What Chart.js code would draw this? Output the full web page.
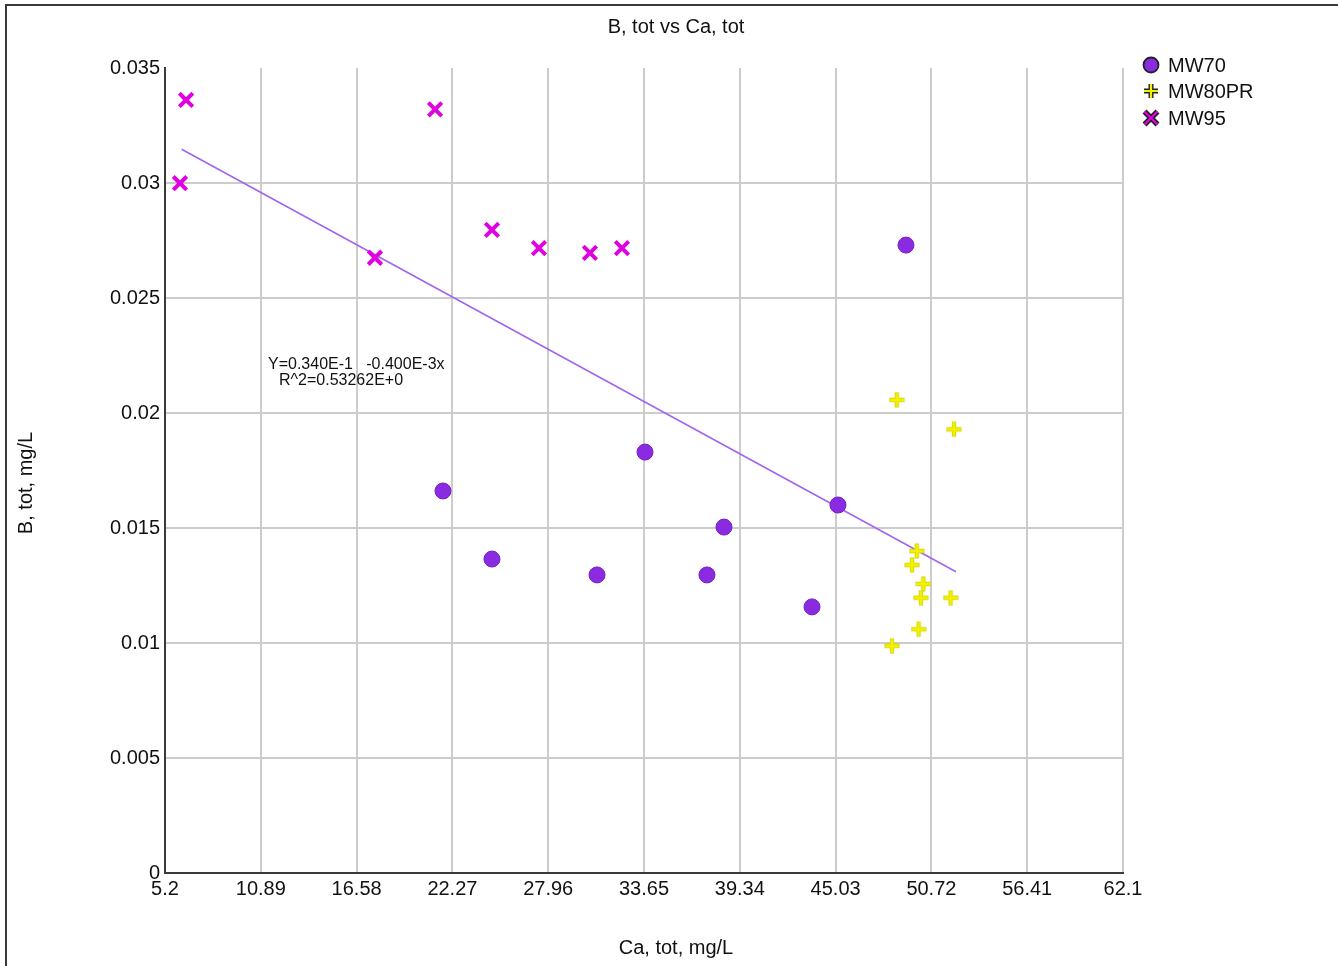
<!DOCTYPE html>
<html>
<head>
<meta charset="utf-8">
<title>B, tot vs Ca, tot</title>
<script src="https://cdn.jsdelivr.net/npm/chart.js@4.4.1/dist/chart.umd.min.js"></script>
<style>
  html, body { margin: 0; padding: 0; background: #fff; overflow: hidden; }
  #wrap { position: relative; width: 1338px; height: 966px; }
</style>
</head>
<body>
<div id="wrap"><canvas id="chart" width="1338" height="966"></canvas></div>
<script>
// --- data ---
const seriesNames = ['MW70', 'MW80PR', 'MW95'];

const mw70Ca = [21.71, 24.62, 30.86, 33.71, 37.39, 38.40, 43.63, 45.17, 49.21];
const mw70B  = [0.01661, 0.01365, 0.01296, 0.01830, 0.01296, 0.01504, 0.01157, 0.01600, 0.02730];

const mw80Ca = [48.66, 52.06, 49.85, 49.57, 50.24, 50.10, 51.86, 49.96, 48.38];
const mw80B  = [0.02057, 0.01929, 0.01400, 0.01339, 0.01257, 0.01197, 0.01197, 0.01060, 0.00988];

const mw95Ca = [6.45, 6.09, 17.67, 21.24, 24.62, 27.41, 30.44, 32.34];
const mw95B  = [0.03361, 0.02999, 0.02675, 0.03320, 0.02796, 0.02717, 0.02696, 0.02717];

// regression line end points (Y=0.340E-1 -0.400E-3x)
const fitCa = [6.19, 52.18];
const fitB  = [0.03147, 0.01310];
const fitText = ['Y=0.340E-1   -0.400E-3x', 'R^2=0.53262E+0'];

const xTicks = [5.2, 10.89, 16.58, 22.27, 27.96, 33.65, 39.34, 45.03, 50.72, 56.41, 62.1];
const xTickLabels = ['5.2', '10.89', '16.58', '22.27', '27.96', '33.65', '39.34', '45.03', '50.72', '56.41', '62.1'];
const yTicks = [0, 0.005, 0.01, 0.015, 0.02, 0.025, 0.03, 0.035];
const yTickLabels = ['0', '0.005', '0.01', '0.015', '0.02', '0.025', '0.03', '0.035'];

const chartTitle = 'B, tot vs Ca, tot';
const xTitle = 'Ca, tot, mg/L';
const yTitle = 'B, tot, mg/L';

// --- helpers ---
function toPoints(xs, ys) {
    return xs.map((x, i) => ({ x: x, y: ys[i] }));
}

const FONT = '"Liberation Sans", Arial, sans-serif';
const TEXT = '#111';
const PURPLE = '#8a2be2';
const YELLOW = '#f2f200';
const MAGENTA = '#e000e0';

// yellow plus marker with a slightly darker edge
function makePlus(size, fill, edge, w) {
    const c = document.createElement('canvas');
    c.width = size; c.height = size;
    const g = c.getContext('2d');
    const m = size / 2;
    g.lineCap = 'butt';
    g.strokeStyle = edge; g.lineWidth = w + 1.5;
    g.beginPath();
    g.moveTo(m, 0.5); g.lineTo(m, size - 0.5);
    g.moveTo(0.5, m); g.lineTo(size - 0.5, m);
    g.stroke();
    g.strokeStyle = fill; g.lineWidth = w;
    g.beginPath();
    g.moveTo(m, 1.2); g.lineTo(m, size - 1.2);
    g.moveTo(1.2, m); g.lineTo(size - 1.2, m);
    g.stroke();
    return c;
}
const plusImg = makePlus(16, YELLOW, '#d0d000', 2.8);

// --- extra drawing: frame, title, axis titles, legend, equation ---
const decorPlugin = {
    id: 'decor',
    beforeDraw(chart) {
        const ctx = chart.ctx;
        ctx.save();
        ctx.fillStyle = '#fff';
        ctx.fillRect(0, 0, chart.width, chart.height);
        ctx.restore();
    },
    afterDraw(chart) {
        const ctx = chart.ctx;
        ctx.save();

        // outer frame (runs off the right and bottom)
        ctx.strokeStyle = '#3a3a3a';
        ctx.lineWidth = 2;
        ctx.strokeRect(6, 5, 1400, 1000);

        ctx.fillStyle = TEXT;
        ctx.font = '20px ' + FONT;
        ctx.textBaseline = 'alphabetic';
        ctx.textAlign = 'center';
        ctx.fillText(chartTitle, 676, 33);
        ctx.fillText(xTitle, 676, 954);

        ctx.save();
        ctx.translate(32, 483);
        ctx.rotate(-Math.PI / 2);
        ctx.fillText(yTitle, 0, 0);
        ctx.restore();

        // regression text
        ctx.font = '16px ' + FONT;
        ctx.textAlign = 'left';
        ctx.fillText(fitText[0], 268, 369);
        ctx.fillText(fitText[1], 279, 385);

        // legend
        const lx = 1151;
        const rows = [65, 91, 118];
        ctx.font = '20px ' + FONT;
        ctx.textBaseline = 'middle';
        seriesNames.forEach((name, i) => {
            const y = rows[i];
            if (i === 0) {
                ctx.beginPath();
                ctx.arc(lx, y, 7.5, 0, Math.PI * 2);
                ctx.fillStyle = PURPLE;
                ctx.fill();
                ctx.strokeStyle = '#222';
                ctx.lineWidth = 1.8;
                ctx.stroke();
            } else if (i === 1) {
                ctx.beginPath();
                ctx.moveTo(lx, y - 7); ctx.lineTo(lx, y + 7);
                ctx.moveTo(lx - 7, y); ctx.lineTo(lx + 7, y);
                ctx.strokeStyle = '#222'; ctx.lineWidth = 5; ctx.stroke();
                ctx.strokeStyle = YELLOW; ctx.lineWidth = 2.2; ctx.stroke();
            } else {
                ctx.beginPath();
                ctx.moveTo(lx - 6.5, y - 6.5); ctx.lineTo(lx + 6.5, y + 6.5);
                ctx.moveTo(lx + 6.5, y - 6.5); ctx.lineTo(lx - 6.5, y + 6.5);
                ctx.strokeStyle = '#222'; ctx.lineWidth = 5.5; ctx.stroke();
                ctx.strokeStyle = MAGENTA; ctx.lineWidth = 2.2; ctx.stroke();
            }
            ctx.fillStyle = TEXT;
            ctx.fillText(name, 1168, y + 1);
        });

        ctx.restore();
    }
};

const ctx = document.getElementById('chart').getContext('2d');
new Chart(ctx, {
    type: 'scatter',
    data: {
        datasets: [
            {
                type: 'line',
                label: 'fit',
                data: toPoints(fitCa, fitB),
                borderColor: '#a066ee',
                borderWidth: 1.6,
                pointRadius: 0,
                fill: false,
                order: 4
            },
            {
                label: seriesNames[0],
                data: toPoints(mw70Ca, mw70B),
                pointStyle: 'circle',
                pointRadius: 8,
                backgroundColor: PURPLE,
                borderColor: '#7420c8',
                borderWidth: 1,
                order: 3
            },
            {
                label: seriesNames[1],
                data: toPoints(mw80Ca, mw80B),
                pointStyle: plusImg,
                pointRadius: 8,
                backgroundColor: YELLOW,
                borderColor: YELLOW,
                order: 2
            },
            {
                label: seriesNames[2],
                data: toPoints(mw95Ca, mw95B),
                pointStyle: 'crossRot',
                pointRadius: 9.5,
                borderColor: MAGENTA,
                backgroundColor: MAGENTA,
                borderWidth: 4,
                order: 1
            }
        ]
    },
    options: {
        responsive: false,
        animation: false,
        events: [],
        layout: { padding: { top: 68, right: 215, bottom: 0, left: 0 } },
        plugins: {
            legend: { display: false },
            title: { display: false },
            tooltip: { enabled: false }
        },
        scales: {
            x: {
                type: 'linear',
                min: xTicks[0],
                max: xTicks[xTicks.length - 1],
                afterBuildTicks: (scale) => { scale.ticks = xTicks.map(v => ({ value: v })); },
                afterFit: (scale) => { scale.height = 93; },
                ticks: {
                    autoSkip: false,
                    maxRotation: 0,
                    padding: 4,
                    color: TEXT,
                    font: { family: FONT, size: 20 },
                    callback: (value, index) => xTickLabels[index]
                },
                grid: { color: '#cccccc', lineWidth: 2, drawTicks: false },
                border: { display: true, color: '#3a3a3a', width: 2 }
            },
            y: {
                type: 'linear',
                min: yTicks[0],
                max: yTicks[yTicks.length - 1],
                afterBuildTicks: (scale) => { scale.ticks = yTicks.map(v => ({ value: v })); },
                afterFit: (scale) => { scale.width = 165; },
                ticks: {
                    autoSkip: false,
                    padding: 5,
                    color: TEXT,
                    font: { family: FONT, size: 20 },
                    callback: (value, index) => yTickLabels[index]
                },
                grid: {
                    // no line along the top edge
                    color: (c) => (c.tick && c.tick.value === yTicks[yTicks.length - 1]) ? 'rgba(0,0,0,0)' : '#cccccc',
                    lineWidth: 2,
                    drawTicks: false
                },
                border: { display: true, color: '#3a3a3a', width: 2 }
            }
        }
    },
    plugins: [decorPlugin]
});
</script>
</body>
</html>
